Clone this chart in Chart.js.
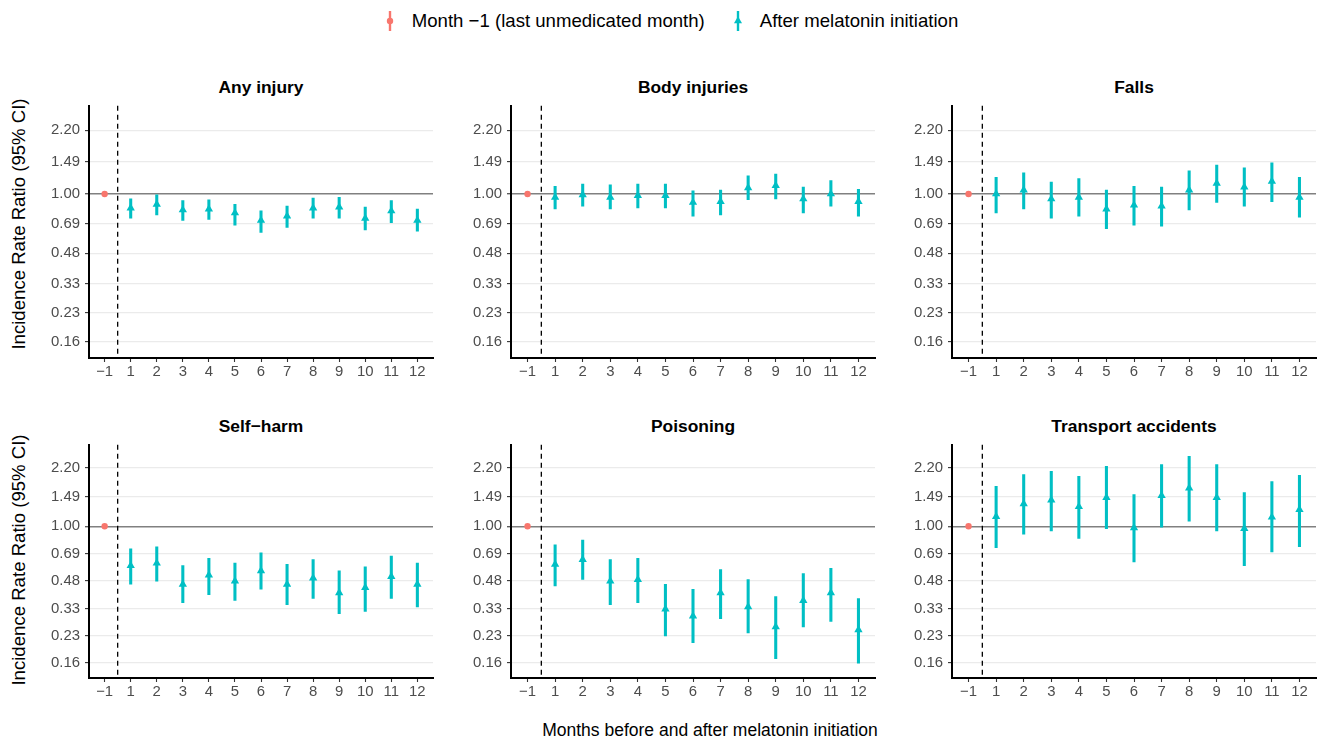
<!DOCTYPE html>
<html>
<head>
<meta charset="utf-8">
<script src="https://cdn.jsdelivr.net/npm/chart.js@4.4.1/dist/chart.umd.min.js"></script>
<style>
body { margin: 0; background: #fff; font-family: "Liberation Sans", Arial, sans-serif; }
#wrap { position: relative; width: 1323px; height: 742px; overflow: hidden; background: #fff; }
.panel { position: absolute; }
.ptitle { position: absolute; font-weight: bold; font-size: 17.4px; color: #000; transform: translate(-50%, -50%); white-space: nowrap; }
.ytitle { position: absolute; font-size: 18.6px; color: #000; transform: translate(-50%, -50%) rotate(-90deg); white-space: nowrap; }
#xtitle { position: absolute; left: 710px; top: 730px; font-size: 17.5px; color: #000; transform: translate(-50%, -50%); white-space: nowrap; }
#legend { position: absolute; left: 0; top: 0; width: 1305px; height: 42px; padding-left: 18px; display: flex; justify-content: center; align-items: center; font-size: 18.6px; color: #000; }
#legend .item { display: flex; align-items: center; }
#legend svg { margin-right: 15px; }
</style>
</head>
<body>
<div id="wrap">
  <div id="legend">
    <div class="item">
      <svg width="14" height="24"><line x1="7" y1="2" x2="7" y2="22" stroke="#F8766D" stroke-width="2.4"/><circle cx="7" cy="12" r="3.2" fill="#F8766D"/></svg>
      <span>Month −1 (last unmedicated month)</span>
    </div>
    <div class="item" style="margin-left:26px">
      <svg width="14" height="24"><line x1="7" y1="2" x2="7" y2="22" stroke="#00BFC4" stroke-width="2.4"/><polygon points="7,7.2 11,14.2 3,14.2" fill="#00BFC4"/></svg>
      <span>After melatonin initiation</span>
    </div>
  </div>
</div>

<script>
//Month labels along the x axis, index 0 is the last unmedicated month
var months = ['−1', '1', '2', '3', '4', '5', '6', '7', '8', '9', '10', '11', '12'];
//Log scale breaks shown on every panel
var yTicks = [0.16, 0.23, 0.33, 0.48, 0.69, 1.00, 1.49, 2.20];

//Any injury
var anyEst = [1.00, 0.84, 0.88, 0.82, 0.83, 0.79, 0.72, 0.76, 0.84, 0.85, 0.74, 0.81, 0.72];
var anyLo  = [1.00, 0.74, 0.77, 0.72, 0.73, 0.68, 0.62, 0.66, 0.74, 0.74, 0.64, 0.70, 0.63];
var anyHi  = [1.00, 0.94, 0.99, 0.92, 0.93, 0.88, 0.81, 0.86, 0.95, 0.96, 0.85, 0.92, 0.83];

//Body injuries
var bodyEst = [1.00, 0.96, 0.99, 0.96, 0.98, 0.98, 0.90, 0.91, 1.08, 1.11, 0.94, 1.00, 0.91];
var bodyLo  = [1.00, 0.83, 0.86, 0.83, 0.84, 0.84, 0.76, 0.77, 0.93, 0.94, 0.79, 0.86, 0.76];
var bodyHi  = [1.00, 1.10, 1.13, 1.12, 1.13, 1.13, 1.04, 1.05, 1.25, 1.28, 1.09, 1.18, 1.06];

//Falls
var fallsEst = [1.00, 1.00, 1.05, 0.94, 0.96, 0.83, 0.87, 0.86, 1.05, 1.14, 1.09, 1.17, 0.96];
var fallsLo  = [1.00, 0.79, 0.83, 0.74, 0.76, 0.65, 0.68, 0.67, 0.82, 0.90, 0.86, 0.91, 0.75];
var fallsHi  = [1.00, 1.23, 1.30, 1.16, 1.21, 1.05, 1.10, 1.09, 1.33, 1.43, 1.38, 1.47, 1.23];

//Self-harm
var selfEst = [1.00, 0.59, 0.61, 0.46, 0.52, 0.48, 0.55, 0.46, 0.50, 0.41, 0.44, 0.51, 0.46];
var selfLo  = [1.00, 0.46, 0.48, 0.36, 0.40, 0.37, 0.43, 0.35, 0.38, 0.31, 0.32, 0.38, 0.34];
var selfHi  = [1.00, 0.74, 0.76, 0.59, 0.65, 0.61, 0.70, 0.60, 0.64, 0.55, 0.58, 0.67, 0.61];

//Poisoning
var poisEst = [1.00, 0.60, 0.64, 0.48, 0.49, 0.33, 0.30, 0.41, 0.34, 0.26, 0.37, 0.41, 0.25];
var poisLo  = [1.00, 0.45, 0.49, 0.35, 0.36, 0.23, 0.21, 0.29, 0.24, 0.17, 0.26, 0.28, 0.16];
var poisHi  = [1.00, 0.78, 0.83, 0.64, 0.65, 0.46, 0.43, 0.56, 0.49, 0.39, 0.53, 0.57, 0.38];

//Transport accidents
var transEst = [1.00, 1.14, 1.35, 1.42, 1.30, 1.47, 0.98, 1.51, 1.67, 1.47, 0.97, 1.13, 1.25];
var transLo  = [1.00, 0.75, 0.90, 0.94, 0.85, 0.97, 0.62, 0.99, 1.07, 0.94, 0.59, 0.71, 0.76];
var transHi  = [1.00, 1.71, 2.00, 2.09, 1.95, 2.23, 1.53, 2.29, 2.55, 2.29, 1.57, 1.82, 1.98];

var cutoff = 1.5;   //dashed line between month -1 and month 1
var red = '#F8766D', cyan = '#00BFC4';

/*
    Draws the dashed vertical line at the initiation cutoff
*/
const cutoffLine = {
    id: 'cutoffLine',
    beforeDatasetsDraw(chart)
    {
        const ctx = chart.ctx, area = chart.chartArea;
        const x = chart.scales.x.getPixelForValue(cutoff);
        ctx.save();
        ctx.strokeStyle = '#000';
        ctx.lineWidth = 1.3;
        ctx.setLineDash([5, 4]);
        ctx.beginPath();
        ctx.moveTo(x, area.top);
        ctx.lineTo(x, area.bottom);
        ctx.stroke();
        ctx.restore();
    }
};

/*
    Creates one panel
    @Param title: panel heading
    @Param est, lo, hi: estimates and 95% CI
    @Param box: left, top, width, height of the canvas
    @Param titleY: vertical centre of the heading
*/
function makePanel(title, est, lo, hi, box, titleY)
{
    var wrap = document.getElementById('wrap');
    var div = document.createElement('div');
    div.className = 'panel';
    div.style.left = box[0] + 'px';
    div.style.top = box[1] + 'px';
    div.style.width = box[2] + 'px';
    div.style.height = box[3] + 'px';
    var cv = document.createElement('canvas');
    div.appendChild(cv);
    wrap.appendChild(div);

    //heading centred over the plot area (y axis is 49px, right padding 5px)
    var t = document.createElement('div');
    t.className = 'ptitle';
    t.textContent = title;
    t.style.left = (box[0] + 49 + (box[2] - 54) / 2) + 'px';
    t.style.top = titleY + 'px';
    wrap.appendChild(t);

    var bars = [], after = [], before = [];
    for (var i = 0; i < months.length; i++)
    {
        if (i == 0) before.push({x: i + 1, y: est[i]});
        else
        {
            bars.push({x: i + 1, y: [lo[i], hi[i]]});
            after.push({x: i + 1, y: est[i]});
        }
    }

    new Chart(cv, {
        type: 'scatter',
        data: {
            datasets: [{
                type: 'bar',
                data: bars,
                backgroundColor: cyan,
                barThickness: 2.4,
                order: 3
            }, {
                data: before,
                pointStyle: 'circle',
                pointRadius: 3.2,
                pointBackgroundColor: red,
                pointBorderWidth: 0,
                order: 1
            }, {
                data: after,
                pointStyle: 'triangle',
                pointRadius: 4.8,
                pointBackgroundColor: cyan,
                pointBorderWidth: 0,
                order: 1
            }]
        },
        options: {
            responsive: true,
            maintainAspectRatio: false,
            animation: false,
            layout: {padding: {top: 0, right: 5, left: 0, bottom: 0}},
            plugins: {legend: {display: false}, tooltip: {enabled: false}},
            scales: {
                x: {
                    type: 'linear',
                    offset: false,
                    min: 0.4,
                    max: 13.6,
                    afterBuildTicks: function(s) { s.ticks = months.map(function(m, i) { return {value: i + 1}; }); },
                    afterFit: function(s) { s.height = 24; s.paddingLeft = 0; s.paddingRight = 0; },
                    ticks: {
                        autoSkip: false,
                        maxRotation: 0,
                        padding: 1,
                        color: '#4D4D4D',
                        font: {family: 'Liberation Sans', size: 14.9},
                        callback: function(v) { return months[v - 1]; }
                    },
                    grid: {offset: false, drawOnChartArea: false, tickLength: 4, tickColor: '#333', tickWidth: 1.1},
                    border: {color: '#000', width: 2}
                },
                y: {
                    type: 'logarithmic',
                    min: 0.131,
                    max: 2.98,
                    afterBuildTicks: function(s) { s.ticks = yTicks.map(function(v) { return {value: v}; }); },
                    afterFit: function(s) { s.width = 49; s.paddingTop = 0; s.paddingBottom = 0; },
                    ticks: {
                        padding: 5,
                        color: '#4D4D4D',
                        font: {family: 'Liberation Sans', size: 14.9},
                        callback: function(v) { return Number(v).toFixed(2); }
                    },
                    grid: {
                        color: function(c) { return (c.tick && c.tick.value == 1) ? '#808080' : '#EBEBEB'; },
                        lineWidth: function(c) { return (c.tick && c.tick.value == 1) ? 1.5 : 1.2; },
                        tickLength: 4,
                        tickColor: '#333',
                        tickWidth: 1.1
                    },
                    border: {color: '#000', width: 2}
                }
            }
        },
        plugins: [cutoffLine]
    });
}

//Top row: plot area about 105..357
makePanel('Any injury', anyEst, anyLo, anyHi, [40, 101, 398, 281], 87);
makePanel('Body injuries', bodyEst, bodyLo, bodyHi, [462, 101, 418, 281], 87);
makePanel('Falls', fallsEst, fallsLo, fallsHi, [903, 101, 418, 281], 87);
//Bottom row: plot area about 444..677
makePanel('Self−harm', selfEst, selfLo, selfHi, [40, 440, 398, 262], 426);
makePanel('Poisoning', poisEst, poisLo, poisHi, [462, 440, 418, 262], 426);
makePanel('Transport accidents', transEst, transLo, transHi, [903, 440, 418, 262], 426);

//Shared axis titles
var wrap = document.getElementById('wrap');
[224, 560].forEach(function(cy)
{
    var yt = document.createElement('div');
    yt.className = 'ytitle';
    yt.textContent = 'Incidence Rate Ratio (95% CI)';
    yt.style.left = '19px';
    yt.style.top = cy + 'px';
    wrap.appendChild(yt);
});
var xt = document.createElement('div');
xt.id = 'xtitle';
xt.textContent = 'Months before and after melatonin initiation';
wrap.appendChild(xt);
</script>
</body>
</html>
